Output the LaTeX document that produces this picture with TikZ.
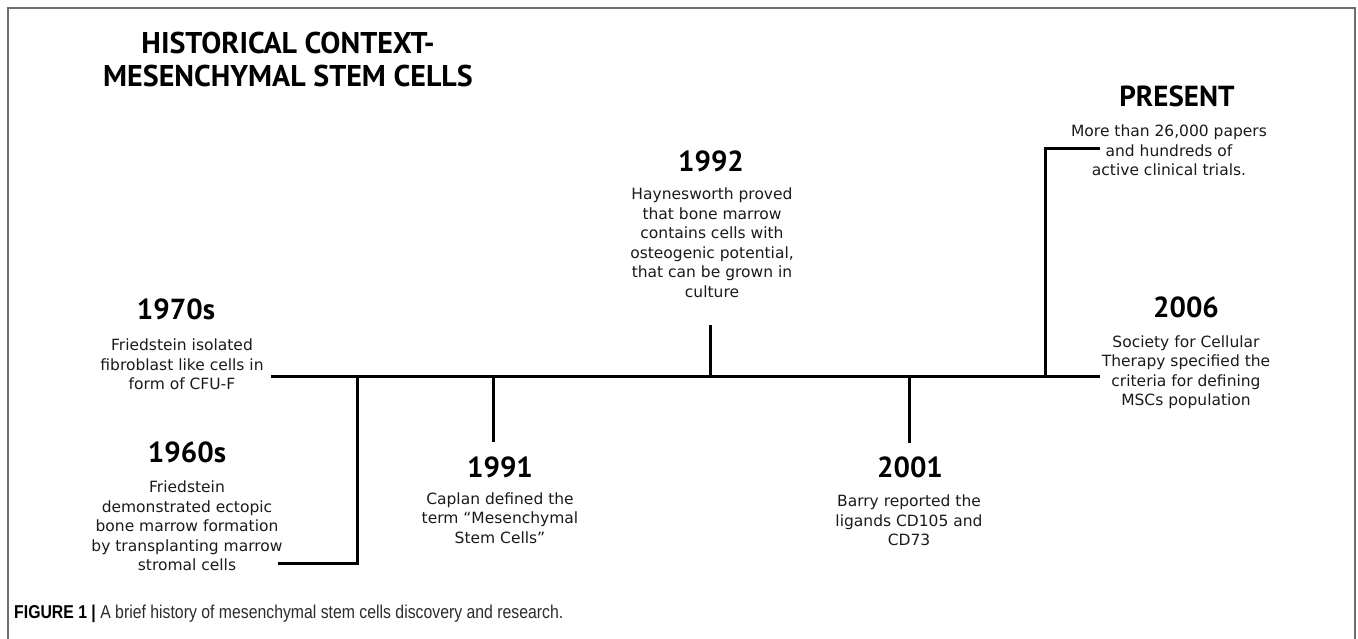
\documentclass[tikz,border=0pt]{standalone}
\usepackage{fontspec}
\setmainfont{DejaVu Sans}
\newfontfamily\headfont{PT Sans}
\newfontfamily\capfont[FakeStretch=0.85]{Liberation Sans}
\definecolor{bodyink}{HTML}{1A1A1A}
\definecolor{frameink}{HTML}{6E6E6E}
\definecolor{capink}{HTML}{2B2B2B}

\tikzset{
  year/.style={inner sep=0pt, font=\headfont\bfseries\fontsize{29}{33}\selectfont, text=black},
  title/.style={inner sep=0pt, align=center, font=\headfont\bfseries\fontsize{30}{33}\selectfont, text=black},
  desc/.style={inner sep=0pt, align=center, font=\fontsize{15.5}{19.5}\selectfont, text=bodyink},
  tline/.style={line width=3pt, black},
  frame/.style={line width=1.4pt, frameink},
}

\begin{document}
\begin{tikzpicture}[x=1pt, y=-1pt]
  \useasboundingbox (0,0) rectangle (1358,639);

  % panel frame, open at the bottom
  \coordinate (fr-bl) at (8,639);
  \coordinate (fr-tl) at (8,8);
  \coordinate (fr-tr) at (1355,8);
  \coordinate (fr-br) at (1355,639);
  \draw[frame] (fr-bl) -- (fr-tl) -- (fr-tr) -- (fr-br);

  % heading
  \node[title] (head) at (288,60) {HISTORICAL CONTEXT-\\MESENCHYMAL STEM CELLS};

  % timeline skeleton
  \coordinate (tl-w) at (271,376);
  \coordinate (tl-e) at (1100,376);
  \coordinate (t60) at (357,376);
  \coordinate (t60-b) at (357,563);
  \coordinate (t60-e) at (278,563);
  \coordinate (t91) at (493,376);
  \coordinate (t91-e) at (493,442);
  \coordinate (t92) at (710,376);
  \coordinate (t92-e) at (710,325);
  \coordinate (t01) at (909,376);
  \coordinate (t01-e) at (909,443);
  \coordinate (tpr) at (1045,376);
  \coordinate (tpr-t) at (1045,149);
  \coordinate (tpr-e) at (1100,149);

  \draw[tline] (tl-w) -- (tl-e);
  \draw[tline, line join=miter] (t60) -- (t60-b) -- (t60-e);
  \draw[tline] (t91) -- (t91-e);
  \draw[tline] (t92) -- (t92-e);
  \draw[tline] (t01) -- (t01-e);
  \draw[tline, line join=miter] (tpr) -- (tpr-t) -- (tpr-e);

  % events
  \node[year] (y1970) at (176,309) {1970s};
  \node[desc] (d1970) at (182,364.5) {Friedstein isolated\\fibroblast like cells in\\form of CFU-F};

  \node[year] (y1960) at (187,452) {1960s};
  \node[desc] (d1960) at (187,526) {Friedstein\\demonstrated ectopic\\bone marrow formation\\by transplanting marrow\\stromal cells};

  \node[year] (y1991) at (500,467) {1991};
  \node[desc] (d1991) at (500,518) {Caplan defined the\\term “Mesenchymal\\Stem Cells”};

  \node[year] (y1992) at (711,161) {1992};
  \node[desc] (d1992) at (712,242.5) {Haynesworth proved\\that bone marrow\\contains cells with\\osteogenic potential,\\that can be grown in\\culture};

  \node[year] (y2001) at (910,467) {2001};
  \node[desc] (d2001) at (909,520.5) {Barry reported the\\ligands CD105 and\\CD73};

  \node[year] (ypres) at (1177,96) {PRESENT};
  \node[desc] (dpres) at (1169,150.5) {More than 26,000 papers\\and hundreds of\\active clinical trials.};

  \node[year] (y2006) at (1186,307) {2006};
  \node[desc] (d2006) at (1186,372) {Society for Cellular\\Therapy specified the\\criteria for defining\\MSCs population};

  % caption
  \node[anchor=west, inner sep=0pt, text=capink, font=\capfont\fontsize{18.6}{22}\selectfont] (cap) at (14,614)
    {\textbf{\color{black}FIGURE 1 |} A brief history of mesenchymal stem cells discovery and research.};
\end{tikzpicture}
\end{document}
